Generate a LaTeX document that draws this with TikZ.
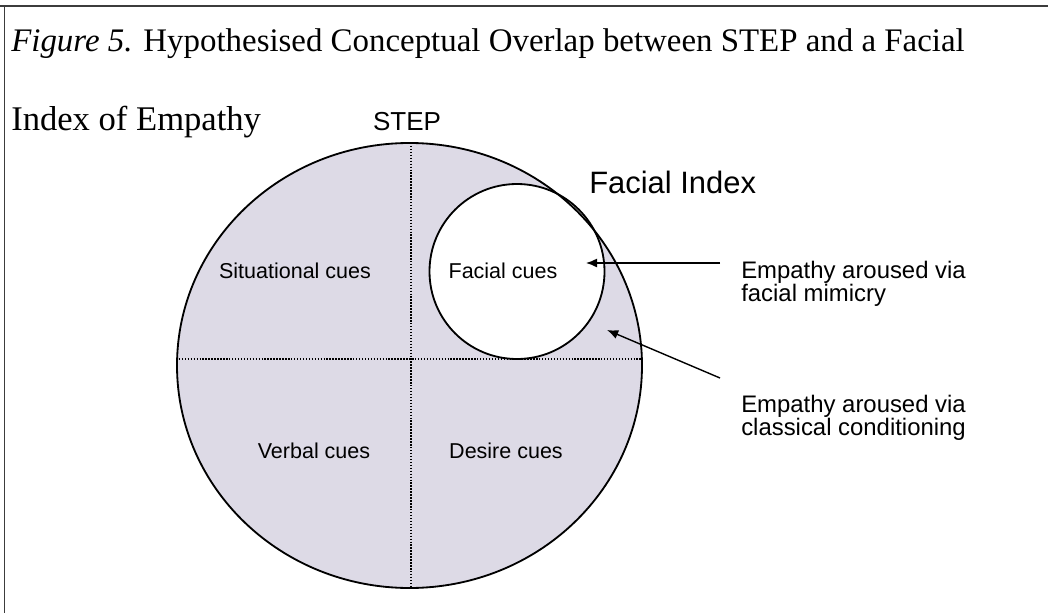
\documentclass[tikz,border=0pt]{standalone}
\usepackage{fontspec}
\setmainfont{Liberation Serif}
\setsansfont{Liberation Sans}
\usetikzlibrary{arrows.meta}
\definecolor{stepfill}{RGB}{221,218,230}
\definecolor{rulegray}{RGB}{60,60,60}

\begin{document}
\begin{tikzpicture}[x=0.25mm, y=-0.25mm, every node/.style={font=\sffamily, inner sep=0pt},
  caption/.style={anchor=base west, font=\rmfamily\fontsize{24}{28}\selectfont},
  cue/.style={anchor=base, font=\sffamily\fontsize{15.3}{18}\selectfont},
  note/.style={anchor=base west, align=left, font=\sffamily\fontsize{17}{16}\selectfont},
  quarter/.style={line width=1pt, dash pattern=on 1pt off 1.1pt},
  pointer/.style={line width=1pt, -{Latex[length=2.8mm, width=2.3mm]}}]
\useasboundingbox (0,0) rectangle (1048,613);
\def\Rx{232.5}
\def\Ry{222.5}
\def\r{87.5}
\coordinate (c) at (409.5,365.5);
\coordinate (f) at (517,271.5);
% frame
\draw[rulegray, line width=1.2pt] (0,6) -- (1048,6);
\draw[rulegray, line width=1pt] (4.5,6) -- (4.5,613);
% STEP circle with its four quadrants
\fill[stepfill] (c) ellipse [x radius=\Rx, y radius=\Ry];
\begin{scope}
  \clip (c) ellipse [x radius=\Rx, y radius=\Ry];
  \draw[quarter] (170,359) -- (650,359);
  \draw[quarter] (411,140) -- (411,590);
\end{scope}
\draw[line width=1.3pt, fill=white] (f) circle [radius=\r];
\draw[line width=1.3pt] (c) ellipse [x radius=\Rx, y radius=\Ry];
% captions
\node[caption, font=\rmfamily\fontsize{23.4}{28}\selectfont] (title) at (11,51) {\textit{Figure 5.} Hypothesised Conceptual Overlap between STEP and a Facial};
\node[caption, font=\rmfamily\fontsize{24.6}{28}\selectfont] (titleb) at (11,130) {Index of Empathy};
\node[anchor=base, font=\sffamily\fontsize{18.5}{22}\selectfont] (step) at (407,130) {STEP};
\node[anchor=base west, font=\sffamily\fontsize{22}{26}\selectfont] (facialindex) at (589,193) {Facial Index};
% cues
\node[cue] (situational) at (295,278) {Situational cues};
\node[cue] (facial) at (503,278) {Facial cues};
\node[cue] (verbal) at (314,458) {Verbal cues};
\node[cue] (desire) at (506,458) {Desire cues};
% pathways
\node[note] (mimicry) at (741,301) {Empathy aroused via\\facial mimicry};
\node[note] (conditioning) at (741,435) {Empathy aroused via\\classical conditioning};
\coordinate (mimicTail) at (720,263);
\coordinate (mimicTip) at (586,263);
\coordinate (condTail) at (720,378);
\coordinate (condTip) at (607,330);
\draw[pointer] (mimicTail) -- (mimicTip);
\draw[pointer] (condTail) -- (condTip);
\end{tikzpicture}
\end{document}
